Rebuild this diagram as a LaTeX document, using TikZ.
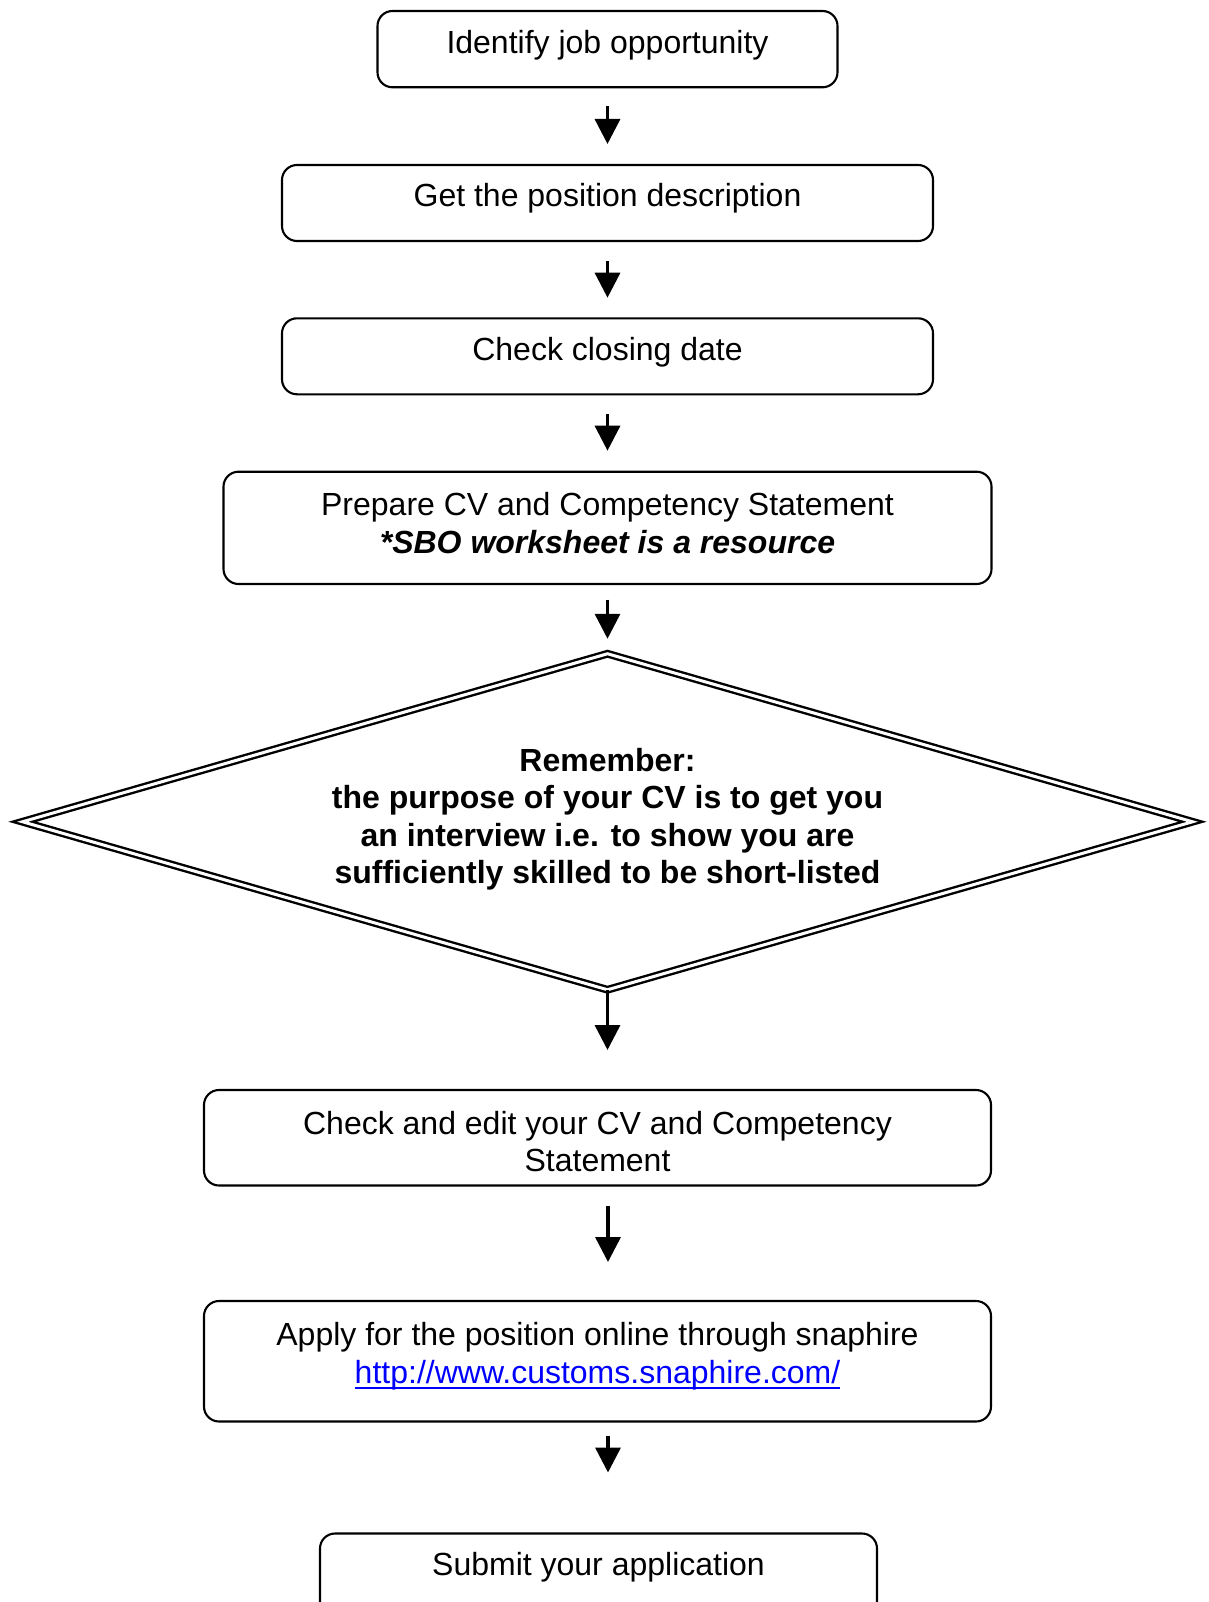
\documentclass[tikz,border=0pt]{standalone}
\usepackage{fontspec}
\setmainfont{Liberation Sans}
\usetikzlibrary{arrows.meta,shapes.geometric}
\newcommand{\mystrut}[2]{\rule[-#2pt]{0pt}{\dimexpr #1pt+#2pt\relax}}
\newsavebox{\myulbox}
\newcommand{\myul}[1]{\sbox{\myulbox}{#1}\rlap{\rule[-6pt]{\wd\myulbox}{2.5pt}}\usebox{\myulbox}}
\tikzset{
  box/.style={draw, line width=2.1pt, rounded corners=15pt, inner sep=0pt, outer sep=0pt,
    anchor=north, align=center, font=\fontsize{32pt}{37.5pt}\selectfont},
  dia/.style={draw, diamond, double, double distance=3pt, line width=2.4pt, inner sep=0pt,
    outer sep=0pt, aspect=3.5, minimum width=1170pt, minimum height=336pt, align=center,
    font=\fontsize{32pt}{37.5pt}\selectfont\bfseries},
  arr/.style={-{Triangle[length=25pt,width=25pt]}, line width=3.4pt}
}
\begin{document}
\begin{tikzpicture}[x=1pt,y=-1pt]
\fill[white] (0,0) rectangle (1208,1602);
\useasboundingbox (0,0) rectangle (1208,1602);

\node[box, minimum width=460pt] (b1) at (607.5,11) {\mystrut{42.5}{33.8}Identify job opportunity};
\node[box, minimum width=651pt] (b2) at (607.5,165) {\mystrut{42}{34}Get the position description};
\node[box, minimum width=651pt] (b3) at (607.5,318.3) {\mystrut{41.7}{34.3}Check closing date};
\node[box, minimum width=768pt] (b4) at (607.5,471.7) {\rule{0pt}{43.8pt}Prepare CV and Competency Statement\\ \textbf{\textit{*SBO worksheet is a resource}}\rule[-31pt]{0pt}{31pt}};
\node[dia] (d) at (607.5,821.75) {\rule{0pt}{30pt}Remember:\\ the purpose of your CV is to get you\\ an interview i.e. to show you are\\ sufficiently skilled to be short-listed\rule[-19pt]{0pt}{19pt}};
\node[box, minimum width=787pt] (b6) at (597.5,1090) {\rule{0pt}{44.3pt}Check and edit your CV and Competency\\ Statement\rule[-13.7pt]{0pt}{13.7pt}};
\node[box, minimum width=787pt] (b7) at (597.5,1301) {\rule{0pt}{44.5pt}Apply for the position online through snaphire\\ \textcolor{blue}{\myul{http://www.customs.snaphire.com/}}\rule[-38.5pt]{0pt}{38.5pt}};
\node[box, minimum width=557pt] (b8) at (598.5,1533.5) {\mystrut{41.5}{50}Submit your application};

\draw[arr, shorten <=19pt, shorten >=21pt] (b1.south) -- (b2.north);
\draw[arr, shorten <=20pt, shorten >=20.6pt] (b2.south) -- (b3.north);
\draw[arr, shorten <=19.7pt, shorten >=21pt] (b3.south) -- (b4.north);
\draw[arr, shorten <=15.5pt, shorten >=15pt] (b4.south) -- (d.north);
\draw[arr, shorten >=40pt] (d.south) -- (d.south |- b6.north);
\draw[arr, shorten <=20pt, shorten >=39pt] ([xshift=10.5pt]b6.south) -- ([xshift=10.5pt]b7.north);
\draw[arr, shorten <=14pt, shorten >=61pt] ([xshift=10.5pt]b7.south) -- ([xshift=9.5pt]b8.north);
\end{tikzpicture}
\end{document}
